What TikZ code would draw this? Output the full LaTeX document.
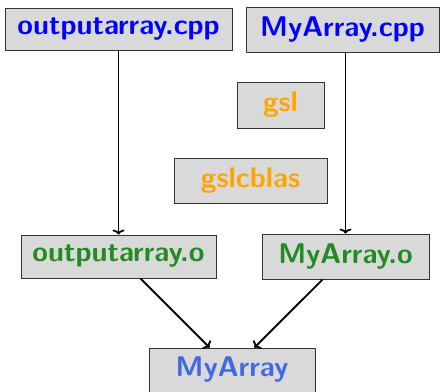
\documentclass[tikz,border=0pt]{standalone}
\usepackage{fontspec}
\usetikzlibrary{positioning, arrows.meta}
\definecolor{clrsource}{RGB}{0,0,255}
\definecolor{clrlib}{RGB}{255,165,0}
\definecolor{clrobject}{RGB}{34,139,34}
\definecolor{clrexec}{RGB}{65,105,225}
\definecolor{clrbox}{RGB}{217,217,217}
\definecolor{clrborder}{HTML}{333333}

\begin{document}
\begin{tikzpicture}[
    x=1pt, y=1pt,
    >={To[length=5pt, width=12pt]},
    every node/.style={font=\fontsize{28.5}{34}\selectfont\sffamily\bfseries},
    block/.style={draw=clrborder, fill=clrbox, line width=0.9pt,
                  minimum height=44pt, inner sep=0pt},
    arrow/.style={->, line width=1.8pt, color=black},
]
\useasboundingbox (0,0) rectangle (441,-391);
\node[block, minimum width=227pt, minimum height=42pt, text=clrsource] (n_1) at (118.5,-29) {outputarray.cpp};
\node[block, minimum width=193pt, minimum height=45pt, text=clrsource] (n_2) at (342.5,-29.5) {MyArray.cpp};
\node[block, minimum width=87pt, minimum height=46pt, text=clrlib] (n_3) at (280.5,-105) {gsl};
\node[block, minimum width=153pt, minimum height=45pt, text=clrlib] (n_4) at (250.5,-180.5) {gslcblas};
\node[block, minimum width=195pt, minimum height=43pt, text=clrobject] (n_5) at (118.5,-256.5) {outputarray.o};
\node[block, minimum width=167pt, minimum height=45pt, text=clrobject] (n_6) at (345.5,-256.5) {MyArray.o};
\node[block, minimum width=166pt, minimum height=44pt, text=clrexec] (n_7) at (232,-370) {MyArray};
\draw[arrow] (n_1.south) -- (n_5.north);
\draw[arrow] (n_6.north |- n_2.south) -- (n_6.north);
\draw[arrow] (n_5) -- (n_7);
\draw[arrow] (n_6) -- (n_7);
\end{tikzpicture}
\end{document}
